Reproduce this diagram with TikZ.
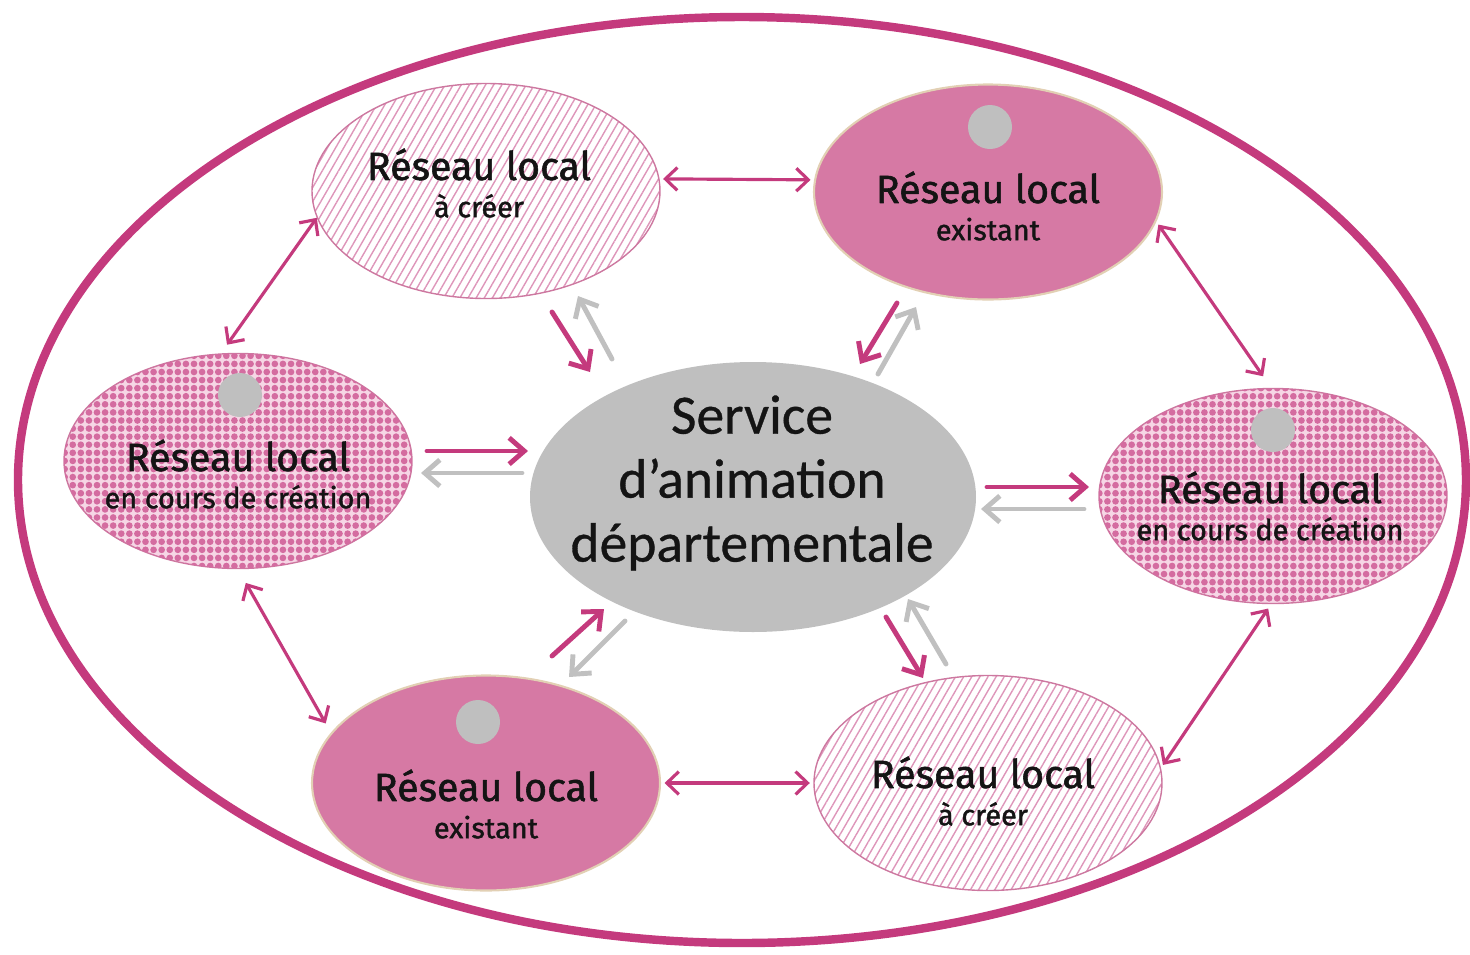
\documentclass[tikz,border=0pt]{standalone}
\usepackage{fontspec}
\newfontfamily\dinfont{Fira Sans}[FakeBold=1.4]
\newfontfamily\calfont{Carlito}[FakeBold=0.6]
\usetikzlibrary{arrows.meta, calc, shapes.geometric, patterns.meta}

\definecolor{rosefonce}{RGB}{196,58,125}
\definecolor{roseplein}{RGB}{214,121,164}
\definecolor{rosetrait}{RGB}{205,120,160}
\definecolor{rosehachure}{RGB}{222,150,186}
\definecolor{rosefond}{RGB}{246,214,229}
\definecolor{rosepoint}{RGB}{212,108,160}
\definecolor{beige}{RGB}{226,208,180}
\definecolor{grisfond}{RGB}{191,191,191}
\definecolor{grisfleche}{RGB}{192,192,192}
\definecolor{texte}{RGB}{20,20,20}

\tikzset{
	reseau/.style={ellipse, minimum width=34.8mm, minimum height=21.5mm, inner sep=0pt},
	existant/.style={reseau, fill=roseplein, draw=beige, line width=0.6pt},
	acreer/.style={reseau, draw=rosetrait, line width=0.4pt,
		pattern={Lines[angle=60, distance=2pt, line width=0.4pt]}, pattern color=rosehachure},
	encours/.style={reseau, draw=rosetrait, line width=0.4pt, fill=rosefond,
		postaction={pattern={Dots[distance=2.3pt, radius=0.95pt]}, pattern color=rosepoint}},
	service/.style={ellipse, minimum width=44.6mm, minimum height=27mm, inner sep=0pt, fill=grisfond},
	titre/.style={align=center, text=texte, font=\dinfont\fontsize{8.2}{10.6}\selectfont},
	pastille/.style={fill=grisfond},
	lien/.style={<->, rosefonce, line width=0.9pt},
	versrose/.style={->, rosefonce, line width=1.4pt, >={Straight Barb[length=4.3pt, width=7.5pt]}},
	versgris/.style={->, grisfleche, line width=1.4pt, >={Straight Barb[length=4.3pt, width=7.5pt]}}
}
\newcommand{\rl}[1]{{\fontsize{11.2}{12}\selectfont Réseau local}\\#1}

\begin{document}
\begin{tikzpicture}[x=0.1mm, y=-0.1mm, >={Straight Barb[length=3.4pt, width=6.5pt]}, line cap=round, line join=round]
	\useasboundingbox (0,0) rectangle (1470,954);
	
	% ===== cadre du département =====
	\draw[rosefonce, line width=2.4pt] (742,480) ellipse (724 and 463);
	
	% ===== réseaux locaux =====
	\node[acreer]   (acreerH)   at (486,191) {};
	\node[existant] (existantH) at (988,192) {};
	\node[encours]  (encoursG)  at (238,461) {};
	\node[encours]  (encoursD)  at (1273,496) {};
	\node[existant] (existantB) at (486,783) {};
	\node[acreer]   (acreerB)   at (988,783) {};
	
	% pastilles grises
	\fill[pastille] ($(existantH)+(2,-65)$) circle (22);
	\fill[pastille] ($(encoursG)+(2,-66)$) circle (22);
	\fill[pastille] ($(encoursD)+(0,-66)$) circle (22);
	\fill[pastille] ($(existantB)+(-8,-61)$) circle (22);
	
	% textes
	\node[titre] (tAH) at (479,183) {\rl{à créer}};
	\node[titre] (tEH) at (988,206) {\rl{existant}};
	\node[titre] (tG)  at (238,474) {\rl{en cours de création}};
	\node[titre] (tD)  at (1270,506) {\rl{en cours de création}};
	\node[titre] (tEB) at (486,804) {\rl{existant}};
	\node[titre] (tAB) at (983,791) {\rl{à créer}};
	
	% ===== service central =====
	\node[service] (sad) at (753,497) {};
	\node[align=center, text=texte, font=\calfont\fontsize{15.8}{18.2}\selectfont] (tsad) at (752,483)
	{Service\\d’animation\\départementale};
	
	% ===== liens entre réseaux =====
	\draw[lien, shorten <=3pt] (encoursG.99) -- (acreerH.189);
	\draw[lien, shorten <=4.5pt, shorten >=3pt] (encoursG.270) -- (existantB.162);
	\draw[lien, shorten <=1pt, shorten >=4pt] (existantH.350) -- (encoursD.91);
	\draw[lien, shorten <=1.5pt, shorten >=1pt] (encoursD.269) -- (acreerB.5);
	\draw[lien, shorten <=1pt, shorten >=1pt] (acreerH.4) -- (existantH.176);
	\draw[lien, shorten <=1pt, shorten >=1pt] (existantB.east) -- (acreerB.west);
	
	% ===== échanges avec le service =====
	\coordinate (h1) at (552,312); \coordinate (h2) at (590,372);
	\coordinate (h3) at (612,359); \coordinate (h4) at (578,296);
	\draw[versrose] (h1) -- (h2);
	\draw[versgris] (h3) -- (h4);
	
	\coordinate (k1) at (897,303); \coordinate (k2) at (860,364);
	\coordinate (k3) at (878,374); \coordinate (k4) at (916,307);
	\draw[versrose] (k1) -- (k2);
	\draw[versgris] (k3) -- (k4);
	
	\coordinate (g1) at (427,451); \coordinate (g2) at (528,451);
	\coordinate (g3) at (522,473); \coordinate (g4) at (421,473);
	\draw[versrose] (g1) -- (g2);
	\draw[versgris] (g3) -- (g4);
	
	\coordinate (d1) at (987,487); \coordinate (d2) at (1089,487);
	\coordinate (d3) at (1084,509); \coordinate (d4) at (981,509);
	\draw[versrose] (d1) -- (d2);
	\draw[versgris] (d3) -- (d4);
	
	\coordinate (b1) at (552,656); \coordinate (b2) at (604,609);
	\coordinate (b3) at (625,621); \coordinate (b4) at (569,677);
	\draw[versrose] (b1) -- (b2);
	\draw[versgris] (b3) -- (b4);
	
	\coordinate (c1) at (886,617); \coordinate (c2) at (923,678);
	\coordinate (c3) at (946,664); \coordinate (c4) at (908,599);
	\draw[versrose] (c1) -- (c2);
	\draw[versgris] (c3) -- (c4);
	
\end{tikzpicture}
\end{document}
